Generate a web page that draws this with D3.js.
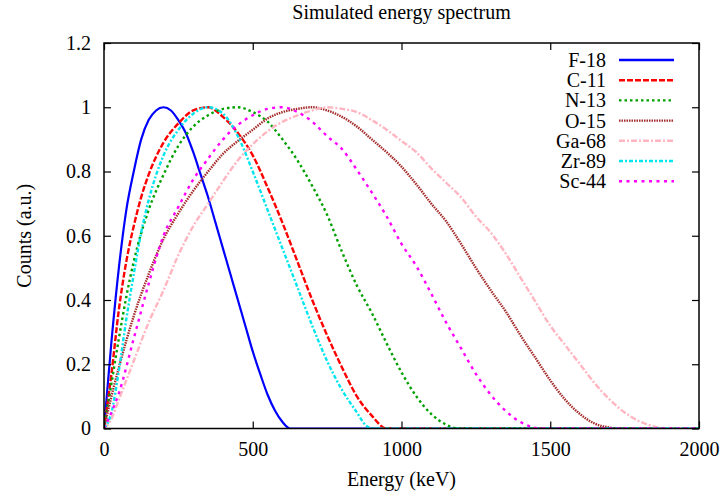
<!DOCTYPE html>
<html>
<head>
<meta charset="utf-8">
<script src="https://cdn.jsdelivr.net/npm/d3@7"></script>
<style>
  body { margin: 0; background: #fff; }
  svg text { font-family: "Liberation Serif", "DejaVu Serif", serif; fill: #000; }
</style>
</head>
<body>
<svg id="chart"></svg>
<script>
// [energy keV, counts normalised]
const f18 = [[0,0],[25,0.27],[50,0.5],[75,0.68],[100,0.8],[125,0.9],[150,0.96],[175,0.99],[200,1.0],[225,0.99],
  [250,0.96],[275,0.92],[300,0.86],[325,0.79],[350,0.72],[375,0.64],[400,0.56],[425,0.48],[450,0.4],[475,0.32],
  [500,0.24],[525,0.17],[550,0.105],[575,0.055],[600,0.02],[625,0],[2000,0]];
const c11 = [[0,0],[25,0.17],[50,0.37],[75,0.52],[100,0.63],[125,0.72],[150,0.79],[200,0.89],[250,0.95],[300,0.99],
  [350,1.0],[400,0.97],[450,0.92],[500,0.85],[550,0.75],[600,0.64],[650,0.52],[700,0.4],[750,0.29],[800,0.19],
  [850,0.1],[900,0.04],[950,0],[2000,0]];
const n13 = [[0,0],[25,0.14],[50,0.28],[75,0.41],[100,0.52],[150,0.68],[200,0.79],[250,0.88],[300,0.94],[350,0.975],
  [400,0.995],[450,1.0],[500,0.985],[550,0.955],[600,0.9],[650,0.835],[700,0.755],[750,0.665],[800,0.55],[850,0.445],
  [900,0.36],[950,0.265],[1000,0.175],[1050,0.1],[1100,0.045],[1150,0.012],[1190,0],[2000,0]];
const o15 = [[0,0],[25,0.1],[50,0.19],[100,0.35],[150,0.48],[200,0.59],[250,0.67],[300,0.74],[350,0.8],[400,0.855],
  [450,0.895],[500,0.93],[550,0.965],[600,0.985],[650,0.995],[700,1.0],[750,0.99],[800,0.97],[850,0.94],[900,0.9],
  [950,0.86],[1000,0.815],[1050,0.76],[1100,0.7],[1150,0.645],[1200,0.575],[1250,0.5],[1300,0.43],[1350,0.365],
  [1400,0.29],[1450,0.22],[1500,0.15],[1550,0.09],[1600,0.045],[1650,0.015],[1700,0.003],[1720,0],[2000,0]];
const ga68 = [[0,0],[25,0.03],[50,0.09],[100,0.21],[150,0.33],[200,0.43],[250,0.54],[300,0.63],[350,0.7],[400,0.77],
  [450,0.835],[500,0.885],[550,0.925],[600,0.955],[650,0.975],[700,0.99],[750,1.0],[800,0.995],[850,0.985],[900,0.96],
  [950,0.93],[1000,0.895],[1050,0.86],[1100,0.81],[1150,0.765],[1200,0.72],[1250,0.66],[1300,0.61],[1350,0.545],
  [1400,0.47],[1450,0.395],[1500,0.32],[1550,0.26],[1600,0.2],[1650,0.14],[1700,0.09],[1750,0.05],[1800,0.022],
  [1850,0.006],[1880,0],[2000,0]];
const zr89 = [[0,0],[25,0.05],[50,0.18],[75,0.34],[100,0.48],[125,0.61],[150,0.71],[200,0.85],[250,0.93],[300,0.98],
  [350,1.0],[400,0.98],[450,0.91],[500,0.8],[550,0.68],[600,0.56],[650,0.44],[700,0.32],[750,0.21],[800,0.12],
  [850,0.05],[880,0.01],[900,0],[2000,0]];
const sc44 = [[0,0],[25,0.05],[50,0.11],[100,0.28],[150,0.45],[200,0.6],[250,0.69],[300,0.775],[350,0.84],[400,0.9],
  [450,0.945],[500,0.975],[550,0.995],[600,1.0],[650,0.985],[700,0.955],[750,0.91],[800,0.87],[850,0.805],[900,0.735],
  [950,0.66],[1000,0.575],[1050,0.505],[1100,0.42],[1150,0.33],[1200,0.25],[1250,0.17],[1300,0.105],[1350,0.055],
  [1400,0.02],[1450,0.002],[1470,0],[2000,0]];

const names = ['F-18','C-11','N-13','O-15','Ga-68','Zr-89','Sc-44'];
const colors = ['#0000ff','#ff0000','#00a000','#a52a2a','#ffb6c1','#00e5ee','#ff00ff'];
const dashes = [null,'6,2','2.5,3','1.5,1','6,2,2,2','4,2,2,2','3,4.5'];
const xTicks = [0,500,1000,1500,2000];
const yTicks = [0,0.2,0.4,0.6,0.8,1,1.2];

const W = 723, H = 496;
const MARGIN = {left: 104, right: 24, top: 43, bottom: 67.5};
const FS = '20px';
const series = [f18,c11,n13,o15,ga68,zr89,sc44];

let svg = d3.select('#chart').attr('width', W).attr('height', H);

let xScale = d3.scaleLinear().domain([0,2000]).range([MARGIN.left, W-MARGIN.right]);
let yScale = d3.scaleLinear().domain([0,1.2]).range([H-MARGIN.bottom, MARGIN.top]);

svg.append('defs').append('clipPath').attr('id','clip')
  .append('rect')
  .attr('x', MARGIN.left).attr('y', MARGIN.top)
  .attr('width', W-MARGIN.left-MARGIN.right)
  .attr('height', H-MARGIN.top-MARGIN.bottom);

// curves
let line = d3.line()
  .x(d => xScale(d[0]))
  .y(d => yScale(d[1]))
  .curve(d3.curveMonotoneX);

svg.append('g').attr('clip-path','url(#clip)')
  .selectAll('path')
  .data(series)
  .join('path')
  .attr('d', d => line(d))
  .attr('fill','none')
  .attr('stroke', (d,i) => colors[i])
  .attr('stroke-width', (d,i) => i==0 ? 2.2 : 2.4)
  .attr('stroke-dasharray', (d,i) => dashes[i]);

// axes with inward ticks, mirrored like gnuplot
const tk = 7;
svg.append('g')
  .attr('transform', `translate(0,${yScale(0)})`)
  .call(d3.axisBottom(xScale).tickValues(xTicks).tickSize(-tk).tickPadding(13).tickFormat(d => d));
svg.append('g')
  .attr('transform', `translate(0,${yScale(1.2)})`)
  .call(d3.axisTop(xScale).tickValues(xTicks).tickSize(-tk).tickFormat(''));
svg.append('g')
  .attr('transform', `translate(${xScale(0)},0)`)
  .call(d3.axisLeft(yScale).tickValues(yTicks).tickSize(-tk).tickPadding(13).tickFormat(d => d));
svg.append('g')
  .attr('transform', `translate(${xScale(2000)},0)`)
  .call(d3.axisRight(yScale).tickValues(yTicks).tickSize(-tk).tickFormat(''));

svg.selectAll('.domain').remove();
svg.selectAll('.tick line').attr('stroke','#000').attr('stroke-width',1.2);
svg.selectAll('.tick text').attr('font-size', FS).attr('font-family', null);

// border
svg.append('rect')
  .attr('x', xScale(0)).attr('y', yScale(1.2))
  .attr('width', xScale(2000)-xScale(0))
  .attr('height', yScale(0)-yScale(1.2))
  .attr('fill','none').attr('stroke','#000').attr('stroke-width',1.5);

// labels
svg.append('text')
  .text('Simulated energy spectrum')
  .attr('x', (xScale(0)+xScale(2000))/2).attr('y', 19)
  .attr('text-anchor','middle').attr('font-size', FS);
svg.append('text')
  .text('Energy (keV)')
  .attr('x', (xScale(0)+xScale(2000))/2).attr('y', 486)
  .attr('text-anchor','middle').attr('font-size', FS);
svg.append('text')
  .text('Counts (a.u.)')
  .attr('transform', `translate(31,${(yScale(0)+yScale(1.2))/2}) rotate(-90)`)
  .attr('text-anchor','middle').attr('font-size', FS);

// legend
let legend = svg.append('g').selectAll('g')
  .data(names)
  .join('g')
  .attr('transform', (d,i) => `translate(0,${60+i*20.2})`);
legend.append('text')
  .text(d => d)
  .attr('x', 606).attr('y', 0).attr('dy','0.35em')
  .attr('text-anchor','end').attr('font-size', FS);
legend.append('line')
  .attr('x1', 619).attr('x2', 674).attr('y1', 0).attr('y2', 0)
  .attr('stroke', (d,i) => colors[i])
  .attr('stroke-width', 2.4)
  .attr('stroke-dasharray', (d,i) => dashes[i]);
</script>
</body>
</html>
